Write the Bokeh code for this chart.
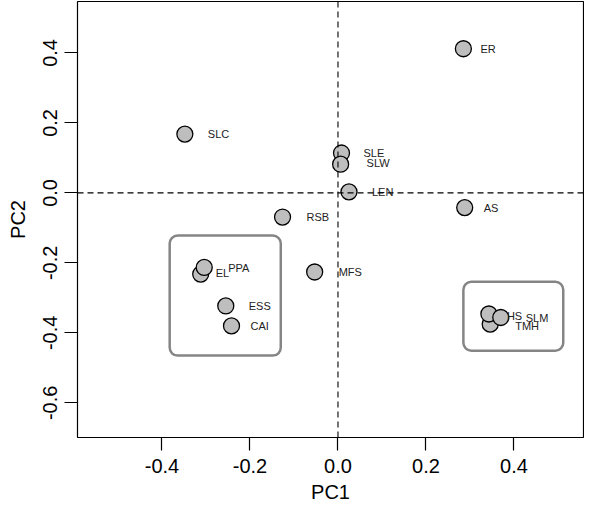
from bokeh.plotting import figure
from bokeh.models import ColumnDataSource, Span, BoxAnnotation, FixedTicker, Range1d
from bokeh.core.properties import value
from bokeh.embed import file_html
from bokeh.resources import INLINE

# ---- data ----
labels = ["ER", "SLC", "SLE", "SLW", "LEN", "AS", "RSB", "MFS",
          "EL", "PPA", "ESS", "CAI", "TMH", "HS", "SLM"]
pc1 = [0.285, -0.348, 0.008, 0.006, 0.025, 0.288, -0.126, -0.053,
       -0.312, -0.304, -0.255, -0.242, 0.346, 0.343, 0.370]
pc2 = [0.412, 0.168, 0.114, 0.082, 0.003, -0.042, -0.069, -0.226,
       -0.232, -0.213, -0.323, -0.380, -0.375, -0.346, -0.356]
x_ticks = [-0.4, -0.2, 0.0, 0.2, 0.4]
y_ticks = [-0.6, -0.4, -0.2, 0.0, 0.2, 0.4]

# label pixel offsets (style)
label_dx = [17, 23, 22, 26, 23, 19, 24, 24, 15, 24, 23, 19, 25, 18, 25]
label_dy = [0, 0, 0, 1, 0, 0, 0, 0, 1, -1, 0, 0, -2, -2, -1]

FONT = "Liberation Sans"

src = ColumnDataSource(dict(x=pc1, y=pc2, lab=labels, dx=label_dx,
                            dy=[-d for d in label_dy]))

p = figure(width=584, height=505, output_backend="svg", toolbar_location=None,
           x_range=Range1d(-0.592, 0.558), y_range=Range1d(-0.699, 0.547),
           min_border_left=77, min_border_right=1, min_border_top=1,
           min_border_bottom=66)
p.grid.visible = False
p.outline_line_color = "black"
p.outline_line_width = 1.2
p.outline_line_alpha = 1.0
p.background_fill_color = "white"
p.border_fill_color = "white"

# reference lines
p.add_layout(Span(location=0, dimension="height", line_color="black",
                  line_dash="6 4", line_width=1.1))
p.add_layout(Span(location=0, dimension="width", line_color="black",
                  line_dash="6 4", line_width=1.1))

# rounded group boxes
p.add_layout(BoxAnnotation(left=-0.3825, right=-0.130, top=-0.1215, bottom=-0.465,
                           fill_alpha=0, line_color="#858585", line_width=2.5,
                           line_alpha=1.0, border_radius=8))
p.add_layout(BoxAnnotation(left=0.285, right=0.512, top=-0.254, bottom=-0.451,
                           fill_alpha=0, line_color="#858585", line_width=2.5,
                           line_alpha=1.0, border_radius=8))

p.scatter("x", "y", source=src, size=16, fill_color="#BEBEBE",
          line_color="black", line_width=1.3)
p.text("x", "y", text="lab", source=src, x_offset="dx", y_offset="dy",
       text_font=value(FONT), text_font_size="11px", text_color="#222222",
       text_baseline="middle", text_align="left")

for ax in (p.xaxis[0], p.yaxis[0]):
    ax.axis_line_color = None
    ax.major_tick_out = 13
    ax.major_tick_in = 0
    ax.minor_tick_line_color = None
    ax.major_tick_line_color = "black"
    ax.major_tick_line_width = 1.2
    ax.major_label_text_font = FONT
    ax.major_label_text_font_size = "20px"
    ax.major_label_text_color = "black"
    ax.axis_label_text_font = FONT
    ax.axis_label_text_font_size = "20px"
    ax.axis_label_text_font_style = "normal"
    ax.axis_label_text_color = "black"

p.xaxis.ticker = FixedTicker(ticks=x_ticks)
p.yaxis.ticker = FixedTicker(ticks=y_ticks)
p.xaxis.major_label_overrides = {t: f"{t:.1f}" for t in x_ticks}
p.yaxis.major_label_overrides = {t: f"{t:.1f}" for t in y_ticks}
p.xaxis.axis_label = "PC1"
p.yaxis.axis_label = "PC2"
p.yaxis.major_label_orientation = "vertical"
p.xaxis.major_label_standoff = 8
p.xaxis.axis_label_standoff = 5
p.yaxis.major_label_standoff = 7
p.yaxis.axis_label_standoff = 12

open("out.html", "w").write(file_html(p, INLINE))
